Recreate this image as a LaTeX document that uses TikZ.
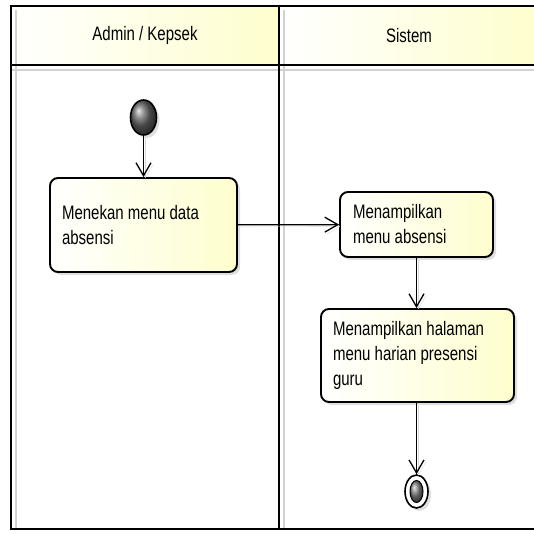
\documentclass[tikz,border=0pt]{standalone}
\usepackage{fontspec}
\setmainfont{Liberation Sans}[FakeStretch=0.77]
\usetikzlibrary{shapes.geometric,shadows,arrows.meta,positioning}

\definecolor{actfill}{HTML}{FEFECE}

\tikzset{
  lanehead/.style={left color=white, right color=actfill, minimum height=59pt,
    font=\fontsize{19.5}{25}\selectfont},
  act/.style={draw=black, line width=1.9pt, rounded corners=8pt,
    left color=white, right color=actfill, align=left, inner xsep=12pt,
    font=\fontsize{19.5}{25}\selectfont,
    execute at begin node={\spaceskip=0pt\xspaceskip=0pt\relax},
    drop shadow={opacity=0.25, shadow xshift=3pt, shadow yshift=-3pt}},
  startnode/.style={ellipse, draw=black, line width=1.6pt, ball color=gray!80!black,
    minimum width=26pt, minimum height=35pt, inner sep=0pt,
    drop shadow={opacity=0.25, shadow xshift=3pt, shadow yshift=-3pt}},
  endnode/.style={ellipse, draw=black, line width=1.6pt, fill=white,
    minimum width=23pt, minimum height=33pt, inner sep=0pt,
    drop shadow={opacity=0.25, shadow xshift=3pt, shadow yshift=-3pt}},
  endball/.style={ellipse, draw=black, line width=1pt, ball color=gray,
    minimum width=13pt, minimum height=22pt, inner sep=0pt},
  flow/.style={->, line width=1.3pt,
    preaction={draw=gray!30, transform canvas={shift={(2pt,-2pt)}}}},
  >={Straight Barb[length=13pt,width=15pt]}
}

\begin{document}
\begin{tikzpicture}[x=1pt, y=-1pt]
  \clip (0,0) rectangle (534,534);

  % lane headers
  \node[lanehead, minimum width=268pt] (H1) at (145,35.5) {Admin / Kepsek};
  \node[lanehead, minimum width=260pt] (H2) at (409,35.5) {Sistem};

  % lane shadows
  \draw[gray!35, line width=1.6pt] (16,10) -- (16,528);
  \draw[gray!35, line width=1.6pt] (284,10) -- (284,528);
  \draw[gray!35, line width=1.6pt] (11,70) -- (540,70);

  % lanes
  \draw[line width=2.4pt] (11,6) rectangle (545,529);
  \draw[line width=2.4pt] (11,65) -- (545,65);
  \draw[line width=2.4pt] (279,6) -- (279,529);

  % activity
  \node[startnode] (S) at (143.5,117.5) {};
  \node[act, minimum width=187pt, minimum height=94pt, text width=163pt]
    (A1) at (143.5,225) {Menekan menu data\\absensi};
  \node[act, minimum width=153pt, minimum height=65pt, text width=127pt]
    (A2) at (416.5,224.5) {Menampilkan\\menu absensi};
  \node[act, minimum width=191pt, minimum height=93pt, text width=169pt]
    (A3) at (417.5,355.5) {Menampilkan halaman\\menu harian presensi\\guru};
  \node[endnode] (E) at (416.5,491.5) {};
  \node[endball] (Ei) at (E) {};

  \draw[flow] (S) to (A1);
  \draw[flow] (A1) to (A2);
  \draw[flow] (A2) to (A2 |- A3.north);
  \draw[flow] (A3.south -| E) to (E);

\end{tikzpicture}
\end{document}
